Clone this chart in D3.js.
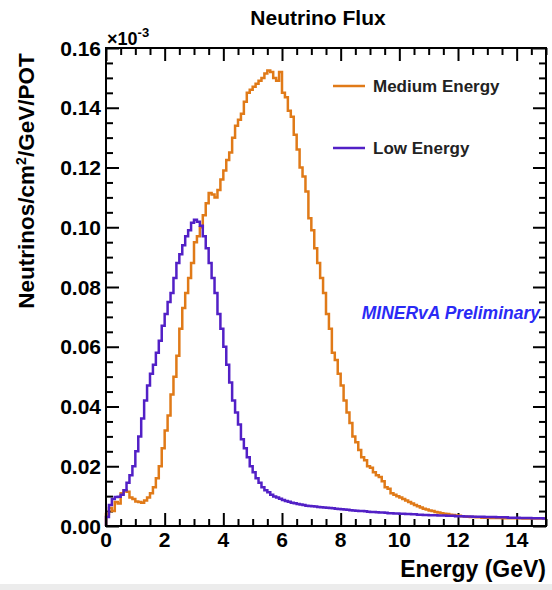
<!DOCTYPE html>
<head>
<meta charset="utf-8">
<title>Neutrino Flux</title>
<style>
    body { margin:0; background:#fff; }
    svg { display:block; }
    text { font-family: "Liberation Sans", Arial, Helvetica, sans-serif; font-weight: bold; }
</style>
</head>
<body>
<svg width="552" height="590"></svg>

<script src="https://cdnjs.cloudflare.com/ajax/libs/d3/7.8.5/d3.min.js"></script>
<script>
// flux per 0.1 GeV bin, 0 - 15 GeV, in units of the axis (x 10^-3)
var binWidth = 0.1;

var mediumEnergy = [
  0.004, 0.006, 0.005, 0.008, 0.0075, 0.011, 0.012, 0.0115, 0.0095, 0.009,
  0.0082, 0.008, 0.0078, 0.0085, 0.0095, 0.011, 0.013, 0.016, 0.020, 0.026,
  0.032, 0.037, 0.044, 0.050, 0.057, 0.066, 0.073, 0.078, 0.083, 0.088,
  0.095, 0.097, 0.100, 0.104, 0.108, 0.1115, 0.111, 0.110, 0.1125, 0.116,
  0.119, 0.1225, 0.125, 0.130, 0.134, 0.136, 0.138, 0.142, 0.145, 0.146,
  0.147, 0.148, 0.149, 0.150, 0.1515, 0.1525, 0.152, 0.150, 0.149, 0.152,
  0.145, 0.1435, 0.139, 0.137, 0.131, 0.126, 0.120, 0.117, 0.112, 0.103,
  0.099, 0.093, 0.088, 0.083, 0.078, 0.071, 0.066, 0.058, 0.0556, 0.051,
  0.047, 0.042, 0.038, 0.0345, 0.030, 0.028, 0.0254, 0.023, 0.022, 0.020,
  0.0195, 0.018, 0.017, 0.0164, 0.015, 0.013, 0.0125, 0.011, 0.0105, 0.010,
  0.0095, 0.009, 0.0085, 0.008, 0.0075, 0.007, 0.0066, 0.0062, 0.0058, 0.0055,
  0.0052, 0.005, 0.0047, 0.0045, 0.0043, 0.0041, 0.004, 0.0038, 0.0037, 0.0035,
  0.0034, 0.0033, 0.0032, 0.0031, 0.003, 0.003, 0.0029, 0.0029, 0.0028, 0.0028,
  0.0028, 0.0027, 0.0027, 0.0027, 0.0027, 0.0026, 0.0026, 0.0026, 0.0026, 0.0026,
  0.0026, 0.0026, 0.0025, 0.0025, 0.0025, 0.0025, 0.0025, 0.0025, 0.0025, 0.0025
];

var lowEnergy = [
  0.003, 0.007, 0.009, 0.0097, 0.0098, 0.0105, 0.012, 0.0145, 0.017, 0.020,
  0.025, 0.030, 0.036, 0.042, 0.047, 0.051, 0.054, 0.058, 0.062, 0.067,
  0.071, 0.075, 0.078, 0.083, 0.088, 0.091, 0.094, 0.097, 0.099, 0.1015,
  0.1025, 0.1018, 0.1005, 0.097, 0.093, 0.088, 0.083, 0.078, 0.071, 0.066,
  0.060, 0.054, 0.048, 0.042, 0.038, 0.034, 0.029, 0.026, 0.023, 0.020,
  0.018, 0.016, 0.0145, 0.013, 0.012, 0.0113, 0.0105, 0.0099, 0.0095, 0.0091,
  0.0087, 0.0084, 0.0081, 0.0078, 0.0076, 0.0074, 0.0072, 0.0070, 0.0068, 0.0067,
  0.0066, 0.0065, 0.0064, 0.0063, 0.0062, 0.0061, 0.006, 0.0059, 0.0058, 0.0057,
  0.0056, 0.0055, 0.0054, 0.0053, 0.0052, 0.0051, 0.005, 0.005, 0.0049, 0.0048,
  0.0047, 0.0047, 0.0046, 0.0045, 0.0045, 0.0044, 0.0043, 0.0043, 0.0042, 0.0042,
  0.0041, 0.0041, 0.004, 0.004, 0.0039, 0.0039, 0.0038, 0.0038, 0.0037, 0.0037,
  0.0036, 0.0036, 0.0036, 0.0035, 0.0035, 0.0035, 0.0034, 0.0034, 0.0034, 0.0033,
  0.0033, 0.0033, 0.0032, 0.0032, 0.0032, 0.0031, 0.0031, 0.0031, 0.0031, 0.003,
  0.003, 0.003, 0.003, 0.0029, 0.0029, 0.0029, 0.0029, 0.0028, 0.0028, 0.0028,
  0.0028, 0.0027, 0.0027, 0.0027, 0.0027, 0.0026, 0.0026, 0.0026, 0.0026, 0.0025
];

var xMajorTicks = [0, 2, 4, 6, 8, 10, 12, 14];
var yMajorTicks = [0, 0.02, 0.04, 0.06, 0.08, 0.10, 0.12, 0.14, 0.16];
var legendLabels = ["Medium Energy", "Low Energy"];
var colors = ["#e07a18", "#5220c6"];

var svg = d3.select("svg");

// light strip at the very bottom of the screenshot
svg.append("rect").attr("x", 0).attr("y", 584).attr("width", 552).attr("height", 6).attr("fill", "#ececec");

var x = d3.scaleLinear().domain([0, 15]).range([106, 546]);
var y = d3.scaleLinear().domain([0, 0.16]).range([526, 48]);

var xMinor = d3.range(0, 15.01, 0.5).filter(function(d){ return d % 2 !== 0; });
var yMinor = d3.range(0, 0.1601, 0.005).filter(function(d){ return Math.abs(d / 0.02 - Math.round(d / 0.02)) > 0.01; });

function ticks(axis, values, size, pos) {
  var g = svg.append("g").attr("transform", pos)
    .call(axis.tickValues(values).tickSize(size).tickFormat(""));
  g.select(".domain").remove();
  g.selectAll("line").attr("stroke", "#000").attr("stroke-width", 2);
}
// inward ticks on all four sides
ticks(d3.axisBottom(x), xMajorTicks, -13, "translate(0,526)");
ticks(d3.axisBottom(x), xMinor, -7, "translate(0,526)");
ticks(d3.axisTop(x), xMajorTicks, -13, "translate(0,48)");
ticks(d3.axisTop(x), xMinor, -7, "translate(0,48)");
ticks(d3.axisLeft(y), yMajorTicks, -13, "translate(106,0)");
ticks(d3.axisLeft(y), yMinor, -7, "translate(106,0)");
ticks(d3.axisRight(y), yMajorTicks, -13, "translate(546,0)");
ticks(d3.axisRight(y), yMinor, -7, "translate(546,0)");

// tick labels
svg.append("g").selectAll("text").data(xMajorTicks).enter().append("text")
  .attr("x", function(d){ return x(d); }).attr("y", 547)
  .attr("text-anchor", "middle").attr("font-size", 21)
  .text(function(d){ return d; });
svg.append("g").selectAll("text").data(yMajorTicks).enter().append("text")
  .attr("x", 101).attr("y", function(d){ return y(d) + 7.5; })
  .attr("text-anchor", "end").attr("font-size", 21)
  .text(d3.format(".2f"));

// histograms
function steps(values) {
  var pts = [[0, 0]];
  values.forEach(function(v, i){
    pts.push([i * binWidth, v]);
    pts.push([(i + 1) * binWidth, v]);
  });
  return pts;
}
var line = d3.line().x(function(d){ return x(d[0]); }).y(function(d){ return y(d[1]); });
[mediumEnergy, lowEnergy].forEach(function(s, i){
  svg.append("path").attr("d", line(steps(s)))
    .attr("fill", "none").attr("stroke", colors[i]).attr("stroke-width", 2.5)
    .attr("stroke-linejoin", "miter");
});

// frame
svg.append("rect").attr("x", 106).attr("y", 48).attr("width", 440).attr("height", 478)
  .attr("fill", "none").attr("stroke", "#000").attr("stroke-width", 2);

// title and axis titles
svg.append("text").attr("x", 318).attr("y", 25).attr("text-anchor", "middle")
  .attr("font-size", 21).text("Neutrino Flux");

svg.append("text").attr("x", 546).attr("y", 577).attr("text-anchor", "end")
  .attr("font-size", 23).text("Energy (GeV)");

var yt = svg.append("text").attr("transform", "translate(34,181) rotate(-90)")
  .attr("text-anchor", "middle").attr("font-size", 22.5);
yt.append("tspan").text("Neutrinos/cm");
yt.append("tspan").attr("font-size", 14).attr("dy", -8).text("2");
yt.append("tspan").attr("dy", 8).text("/GeV/POT");

var ex = svg.append("text").attr("x", 107).attr("y", 45).attr("font-size", 18).attr("font-weight", "normal");
ex.append("tspan").text("\u00d710");
ex.append("tspan").attr("font-size", 13).attr("dy", -8).text("-3");

// legend
legendLabels.forEach(function(l, i){
  var ly = 86 + i * 62;
  svg.append("line").attr("x1", 333).attr("x2", 365).attr("y1", ly).attr("y2", ly)
    .attr("stroke", colors[i]).attr("stroke-width", 2.5);
  svg.append("text").attr("x", 373).attr("y", ly + 6).attr("font-size", 17)
    .attr("fill", "#222").text(l);
});

svg.append("text").attr("x", 540).attr("y", 319).attr("text-anchor", "end")
  .attr("font-size", 17.5).attr("font-style", "italic").attr("fill", "#2a2af5")
  .text("MINERvA Preliminary");
</script>
</body>
